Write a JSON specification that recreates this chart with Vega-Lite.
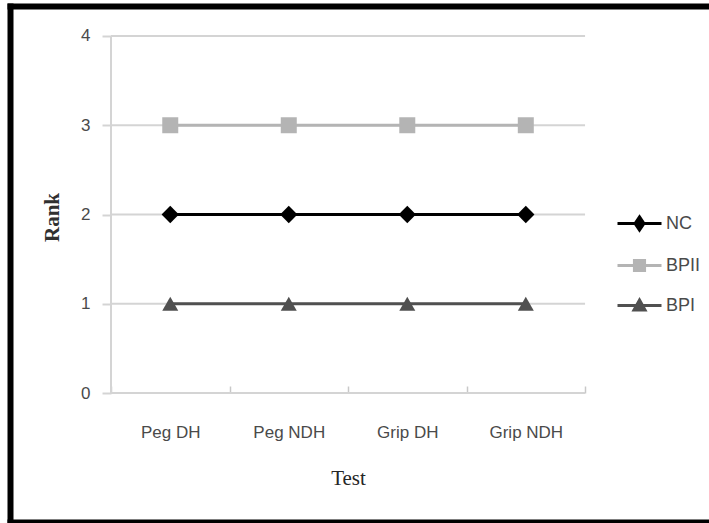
{
  "$schema": "https://vega.github.io/schema/vega-lite/v6.json",
  "width": 699,
  "height": 516,
  "autosize": {"type": "none"},
  "padding": {"left": 10, "top": 6, "right": 0, "bottom": 1},
  "background": "white",
  "config": {"view": {"stroke": null}, "font": "Liberation Sans"},
  "datasets": {
    "ranks": [
      {"test": "Peg DH", "group": "NC", "rank": 2},
      {"test": "Peg NDH", "group": "NC", "rank": 2},
      {"test": "Grip DH", "group": "NC", "rank": 2},
      {"test": "Grip NDH", "group": "NC", "rank": 2},
      {"test": "Peg DH", "group": "BPII", "rank": 3},
      {"test": "Peg NDH", "group": "BPII", "rank": 3},
      {"test": "Grip DH", "group": "BPII", "rank": 3},
      {"test": "Grip NDH", "group": "BPII", "rank": 3},
      {"test": "Peg DH", "group": "BPI", "rank": 1},
      {"test": "Peg NDH", "group": "BPI", "rank": 1},
      {"test": "Grip DH", "group": "BPI", "rank": 1},
      {"test": "Grip NDH", "group": "BPI", "rank": 1}
    ],
    "gridlines": [{"rank": 0}, {"rank": 1}, {"rank": 2}, {"rank": 3}, {"rank": 4}]
  },
  "resolve": {"axis": {"x": "independent", "y": "independent"}},
  "layer": [
    {
      "data": {"name": "gridlines"},
      "mark": {"type": "rule", "color": "#d4d4d4", "strokeWidth": 2},
      "encoding": {
        "x": {
          "datum": "Peg DH", "bandPosition": 0, "type": "nominal",
          "scale": {"type": "band", "domain": ["Peg DH", "Peg NDH", "Grip DH", "Grip NDH"], "paddingInner": 0, "paddingOuter": 0.949, "align": 0.449},
          "axis": {
            "orient": "bottom", "offset": -129, "title": "Test", "domain": false, "grid": false,
            "tickBand": "extent", "tickSize": -7, "tickColor": "#c8c8c8", "tickWidth": 1.5,
            "labelAngle": 0, "labelFont": "Liberation Sans", "labelFontSize": 17, "labelColor": "#4a4a4a", "labelPadding": 38,
            "titleFont": "Liberation Serif", "titleFontSize": 21, "titleFontWeight": "normal", "titleColor": "#262626",
            "titleX": 338, "titleY": 85, "titleBaseline": "middle", "titleAlign": "center"
          }
        },
        "x2": {"datum": "Grip NDH", "bandPosition": 1},
        "y": {
          "field": "rank", "type": "quantitative",
          "scale": {"domain": [-1.445, 4.336], "nice": false, "zero": false},
          "axis": {
            "orient": "left", "offset": -101, "title": "Rank", "values": [0, 1, 2, 3, 4], "domain": false, "grid": false,
            "tickSize": 9, "tickColor": "#d4d4d4", "tickWidth": 2,
            "labelFont": "Liberation Sans", "labelFontSize": 17, "labelColor": "#4a4a4a", "labelPadding": 12,
            "titleFont": "Liberation Serif", "titleFontSize": 21, "titleFontWeight": "bold", "titleColor": "#303030",
            "titleX": -59, "titleY": 211, "titleBaseline": "middle", "titleAlign": "center", "titleAngle": -90
          }
        }
      }
    },
    {
      "data": {"values": [{}]},
      "mark": {"type": "rule", "color": "#d4d4d4", "strokeWidth": 2},
      "encoding": {
        "x": {"datum": "Peg DH", "bandPosition": 0, "type": "nominal", "axis": null},
        "y": {"datum": 0, "type": "quantitative", "axis": null},
        "y2": {"datum": 4}
      }
    },
    {
      "data": {"name": "ranks"},
      "mark": {"type": "line", "strokeWidth": 3},
      "encoding": {
        "x": {"field": "test", "type": "nominal", "axis": null},
        "y": {"field": "rank", "type": "quantitative", "axis": null},
        "color": {
          "field": "group", "type": "nominal",
          "scale": {"domain": ["NC", "BPII", "BPI"], "range": ["#000000", "#b4b4b4", "#505050"]},
          "legend": {
            "orient": "none", "legendX": 606, "legendY": 194, "title": null, "padding": 0,
            "symbolSize": 1936, "rowPadding": 5, "labelOffset": 3,
            "labelFont": "Liberation Sans", "labelFontSize": 18, "labelColor": "#4a4a4a",
            "encode": {
              "symbols": {
                "update": {
                  "shape": {"signal": "datum.value === 'NC' ? 'M-1,0H1M0,-0.3L0.2,0L0,0.3L-0.2,0Z' : datum.value === 'BPII' ? 'M-1,0H1M-0.23,-0.23H0.23V0.23H-0.23Z' : 'M-1,0H1M0,-0.25L0.25,0.2H-0.25Z'"},
                  "fill": {"signal": "scale('color', datum.value)"},
                  "stroke": {"signal": "scale('color', datum.value)"},
                  "strokeWidth": {"value": 3},
                  "opacity": {"value": 1}
                }
              }
            }
          }
        }
      }
    },
    {
      "data": {"name": "ranks"},
      "transform": [{"filter": "datum.group === 'NC'"}],
      "mark": {"type": "point", "filled": true, "shape": "diamond", "size": 300, "opacity": 1},
      "encoding": {
        "x": {"field": "test", "type": "nominal", "axis": null},
        "y": {"field": "rank", "type": "quantitative", "axis": null},
        "color": {"field": "group", "type": "nominal", "legend": null}
      }
    },
    {
      "data": {"name": "ranks"},
      "transform": [{"filter": "datum.group === 'BPII'"}],
      "mark": {"type": "point", "filled": true, "shape": "square", "size": 256, "opacity": 1},
      "encoding": {
        "x": {"field": "test", "type": "nominal", "axis": null},
        "y": {"field": "rank", "type": "quantitative", "axis": null},
        "color": {"field": "group", "type": "nominal", "legend": null}
      }
    },
    {
      "data": {"name": "ranks"},
      "transform": [{"filter": "datum.group === 'BPI'"}],
      "mark": {"type": "point", "filled": true, "shape": "triangle-up", "size": 256, "opacity": 1},
      "encoding": {
        "x": {"field": "test", "type": "nominal", "axis": null},
        "y": {"field": "rank", "type": "quantitative", "axis": null},
        "color": {"field": "group", "type": "nominal", "legend": null}
      }
    },
    {
      "data": {"values": [{}]},
      "mark": {"type": "rule", "opacity": 0},
      "encoding": {
        "x": {"datum": "Peg DH", "type": "nominal", "axis": {"orient": "top", "offset": 0, "title": null, "labels": false, "ticks": false, "grid": false, "domain": true, "domainColor": "#000000", "domainWidth": 6, "domainCap": "square"}},
        "y": {"datum": 0, "type": "quantitative", "axis": {"orient": "left", "offset": 0, "title": null, "labels": false, "ticks": false, "grid": false, "domain": true, "domainColor": "#000000", "domainWidth": 6, "domainCap": "square"}}
      }
    },
    {
      "data": {"values": [{}]},
      "mark": {"type": "rule", "opacity": 0},
      "encoding": {
        "x": {"datum": "Peg DH", "type": "nominal", "axis": {"orient": "bottom", "offset": 0, "title": null, "labels": false, "ticks": false, "grid": false, "domain": true, "domainColor": "#000000", "domainWidth": 6, "domainCap": "square"}},
        "y": {"datum": 0, "type": "quantitative", "axis": null}
      }
    }
  ]
}
